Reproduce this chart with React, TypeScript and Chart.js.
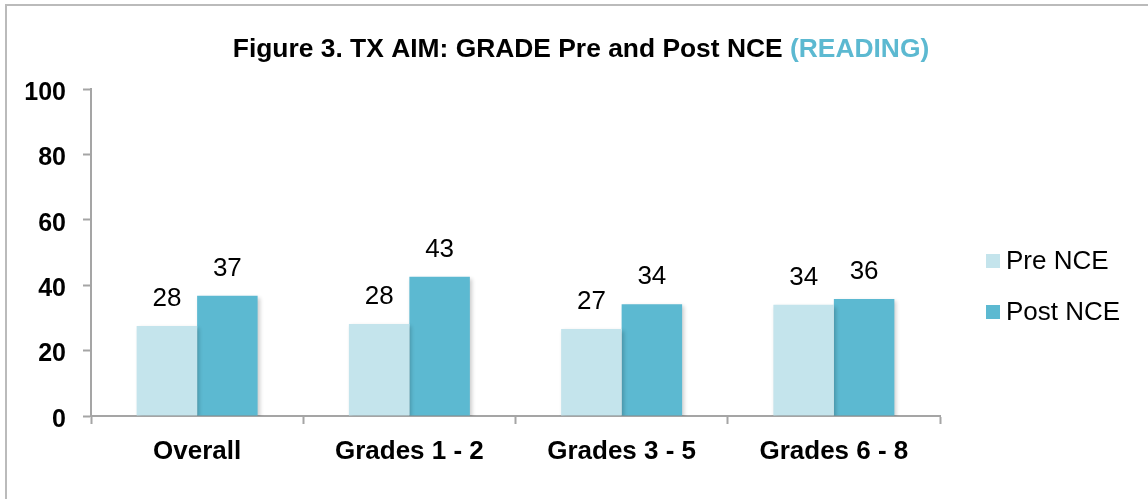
import React, { useEffect, useRef } from 'react';
import { Chart, registerables } from 'chart.js';

Chart.register(...registerables);

const categories = ['Overall', 'Grades 1 - 2', 'Grades 3 - 5', 'Grades 6 - 8'];
const seriesNames = ['Pre NCE', 'Post NCE'];
const preNCE = [27.5, 28.1, 26.6, 34.0];
const postNCE = [36.8, 42.6, 34.2, 35.8];
const yMin = 0;
const yMax = 100;
const yStep = 20;
const titleMain = 'Figure 3. TX AIM: GRADE Pre and Post NCE ';
const titleAccent = '(READING)';

const FONT = "'Liberation Sans', Arial, Helvetica, sans-serif";
const PRE_COLOR = '#C4E4EC';
const POST_COLOR = '#5CB9D1';
const AXIS_COLOR = '#A5A5A5';

const titlePlugin = {
  id: 'twoColorTitle',
  afterDraw(chart: any) {
    const ctx = chart.ctx;
    ctx.save();
    ctx.font = `bold 26.4px ${FONT}`;
    ctx.textBaseline = 'alphabetic';
    ctx.textAlign = 'left';
    const w1 = ctx.measureText(titleMain).width;
    const w2 = ctx.measureText(titleAccent).width;
    const cx = 581;
    const x0 = cx - (w1 + w2) / 2;
    const y = 57;
    ctx.fillStyle = '#000';
    ctx.fillText(titleMain, x0, y);
    ctx.fillStyle = POST_COLOR;
    ctx.fillText(titleAccent, x0 + w1, y);
    ctx.restore();
  },
};

const valueLabelPlugin = {
  id: 'valueLabels',
  afterDatasetsDraw(chart: any) {
    const ctx = chart.ctx;
    ctx.save();
    ctx.font = `26px ${FONT}`;
    ctx.fillStyle = '#000';
    ctx.textAlign = 'center';
    ctx.textBaseline = 'alphabetic';
    chart.data.datasets.forEach((ds: any, di: number) => {
      const meta = chart.getDatasetMeta(di);
      meta.data.forEach((bar: any, i: number) => {
        const v = ds.data[i];
        ctx.fillText(String(Math.round(v)), bar.x, bar.y - 20);
      });
    });
    ctx.restore();
  },
};

const shadowPlugin = {
  id: 'barShadow',
  beforeDatasetsDraw(chart: any) {
    const ctx = chart.ctx;
    ctx.save();
    ctx.shadowColor = 'rgba(0,0,0,0.2)';
    ctx.shadowBlur = 4;
    ctx.shadowOffsetX = 2;
    ctx.shadowOffsetY = 2;
  },
  afterDatasetsDraw(chart: any) {
    chart.ctx.restore();
  },
};

const legendPlugin = {
  id: 'customLegend',
  afterDraw(chart: any) {
    const ctx = chart.ctx;
    const area = chart.chartArea;
    ctx.save();
    ctx.font = `26px ${FONT}`;
    ctx.textBaseline = 'middle';
    ctx.textAlign = 'left';
    const colors = [PRE_COLOR, POST_COLOR];
    const boxX = area.right + 46;
    const centers = [area.top + 172, area.top + 223];
    seriesNames.forEach((name, i) => {
      const cy = centers[i];
      ctx.fillStyle = colors[i];
      ctx.fillRect(boxX, cy - 7, 14, 14);
      ctx.fillStyle = '#000';
      ctx.fillText(name, boxX + 20, cy + 1);
    });
    ctx.restore();
  },
};

export default function App() {
  const canvasRef = useRef<HTMLCanvasElement | null>(null);

  useEffect(() => {
    if (!canvasRef.current) return;
    Chart.defaults.font.family = FONT;
    const chart = new Chart(canvasRef.current, {
      type: 'bar',
      data: {
        labels: categories,
        datasets: [
          {
            label: seriesNames[0],
            data: preNCE,
            backgroundColor: PRE_COLOR,
            borderWidth: 0,
            categoryPercentage: 0.57,
            barPercentage: 1,
          },
          {
            label: seriesNames[1],
            data: postNCE,
            backgroundColor: POST_COLOR,
            borderWidth: 0,
            categoryPercentage: 0.57,
            barPercentage: 1,
          },
        ],
      },
      options: {
        animation: false,
        responsive: false,
        maintainAspectRatio: false,
        devicePixelRatio: 1,
        layout: { padding: { top: 89, right: 208, bottom: 0, left: 0 } },
        plugins: {
          legend: { display: false },
          title: { display: false },
          tooltip: { enabled: false },
        },
        scales: {
          x: {
            grid: {
              display: true,
              drawOnChartArea: false,
              drawTicks: true,
              tickLength: 8,
              tickColor: AXIS_COLOR,
              tickWidth: 2,
              offset: true,
            },
            border: { display: true, color: AXIS_COLOR, width: 2 },
            ticks: {
              color: '#000',
              font: { size: 26, weight: 'bold', family: FONT },
              padding: 12,
              maxRotation: 0,
              autoSkip: false,
            },
            afterFit: (s: any) => {
              s.height = 83;
            },
          },
          y: {
            min: yMin,
            max: yMax,
            grid: {
              display: true,
              drawOnChartArea: false,
              drawTicks: true,
              tickLength: 8,
              tickColor: AXIS_COLOR,
              tickWidth: 2,
            },
            border: { display: true, color: AXIS_COLOR, width: 2 },
            ticks: {
              stepSize: yStep,
              color: '#000',
              font: { size: 25, weight: 'bold', family: FONT },
              padding: 17,
              labelOffset: 4,
            },
            afterFit: (s: any) => {
              s.width = 91;
            },
          },
        },
      },
      plugins: [shadowPlugin, valueLabelPlugin, titlePlugin, legendPlugin],
    } as any);
    return () => chart.destroy();
  }, []);

  return (
    <div
      style={{
        position: 'fixed',
        left: 0,
        top: 0,
        width: 1148,
        height: 499,
        overflow: 'hidden',
        background: '#fff',
      }}
    >
      <canvas
        ref={canvasRef}
        width={1148}
        height={499}
        style={{ position: 'absolute', left: 0, top: 0, width: 1148, height: 499 }}
      />
      <div
        style={{
          position: 'absolute',
          left: 5,
          top: 4,
          width: 2000,
          height: 2000,
          borderTop: '2px solid #BBBBBB',
          borderLeft: '2px solid #BBBBBB',
          pointerEvents: 'none',
        }}
      />
    </div>
  );
}
